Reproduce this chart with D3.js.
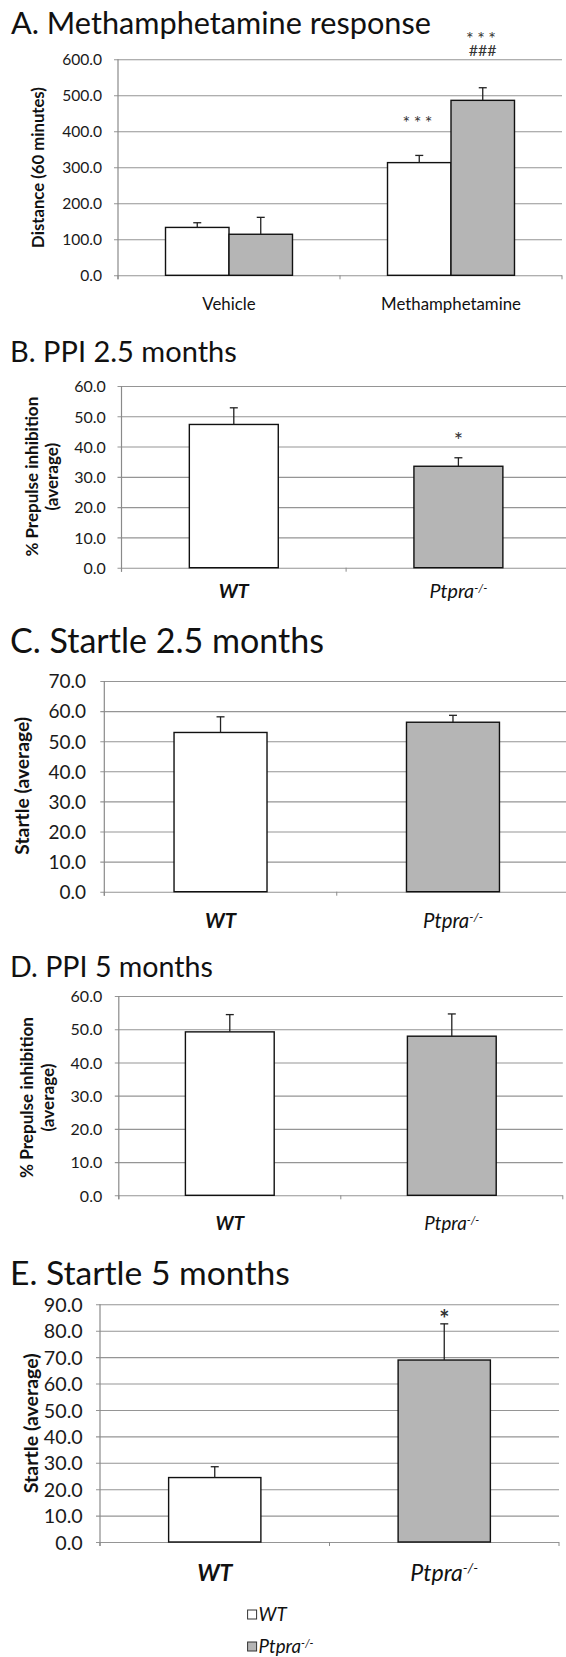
<!DOCTYPE html>
<html>
<head>
<meta charset="utf-8">
<script src="https://cdn.jsdelivr.net/npm/d3@7"></script>
<style>
  body { margin: 0; background: #fff; }
  svg { display: block; }
</style>
</head>
<body>
<svg id="fig" width="566" height="1657"></svg>
<script>
const font = "Lato, 'Open Sans', sans-serif";

// A. Methamphetamine response (two genotypes per treatment)
const methCategories = ["Vehicle", "Methamphetamine"];
const methWT = [133, 313];
const methWTErr = [13, 20];
const methKO = [114, 486];
const methKOErr = [47, 35];
const methWTMarks = [[], ["***"]];
const methKOMarks = [[], ["###", "***"]]; // listed bottom to top
const methTicks = [0, 100, 200, 300, 400, 500, 600];

// B - E: one bar per genotype
const genotypes = ["WT", "Ptpra"];

const ppi25 = [47.3, 33.5];
const ppi25Err = [5.5, 2.8];
const ppi25Marks = [[], ["*"]];

const startle25 = [52.9, 56.3];
const startle25Err = [5.2, 2.3];

const ppi5 = [49.2, 47.9];
const ppi5Err = [5.2, 6.7];

const startle5 = [24.4, 68.9];
const startle5Err = [4.1, 13.7];
const startle5Marks = [[], ["*"]];

const ppiTicks = [0, 10, 20, 30, 40, 50, 60];
const startle25Ticks = [0, 10, 20, 30, 40, 50, 60, 70];
const startle5Ticks = [0, 10, 20, 30, 40, 50, 60, 70, 80, 90];

const colors = { WT: "#ffffff", Ptpra: "#b5b5b5" };

const svg = d3.select("#fig");

function fit(sel, w) {
  const fs = parseFloat(sel.attr("font-size"));
  const len = sel.node().getComputedTextLength();
  const nfs = fs * w / len;
  sel.attr("font-size", nfs);
  return nfs;
}

function genotypeLabel(t, d, fs) {
  t.text(null).attr("font-size", fs).attr("font-style", "italic");
  if (d === "Ptpra") {
    t.attr("font-weight", "normal");
    t.append("tspan").text("Ptpra");
    t.append("tspan").attr("font-size", "0.6em").attr("dy", "-0.55em").text("-/-");
  } else {
    t.attr("font-weight", "bold").text(d);
  }
}

function singleBars(vals, errs, marks) {
  return genotypes.map((c, i) => ({
    cat: c, s: 0, v: vals[i], e: errs[i], marks: marks ? marks[i] : [], fill: colors[c]
  }));
}

function panel(p) {
  const g = svg.append("g");
  const y = d3.scaleLinear().domain([0, p.yMax]).range([p.y0, p.y1]);
  const x = d3.scaleBand().domain(p.categories).range([p.x0, p.x1])
    .paddingInner(p.pad).paddingOuter(p.pad / 2);
  const sub = d3.scaleBand().domain(d3.range(p.nSeries)).range([0, x.bandwidth()]);

  // title
  const title = g.append("text").attr("x", p.titleX).attr("y", p.titleY)
    .attr("font-family", font).attr("font-size", 30).attr("fill", "#111").text(p.title);
  fit(title, p.titleW);

  // gridlines + y tick labels
  const ya = g.append("g").attr("transform", `translate(${p.x0},0)`)
    .call(d3.axisLeft(y).tickValues(p.ticks).tickFormat(d3.format(".1f"))
      .tickSize(-(p.x1 - p.x0)).tickPadding(p.tickPad));
  ya.select(".domain").remove();
  ya.selectAll(".tick line").attr("x1", -4).attr("stroke", "#959595").attr("stroke-width", 1.1);
  ya.selectAll(".tick text").attr("font-family", font).attr("font-size", p.tickFs)
    .attr("fill", "#1a1a1a").attr("dy", "0.36em");

  // left axis line and category boundary ticks
  g.append("line").attr("x1", p.x0).attr("x2", p.x0).attr("y1", y(p.yMax)).attr("y2", y(0) + 4)
    .attr("stroke", "#8a8a8a").attr("stroke-width", 1.2);
  g.selectAll(".ctick").data(d3.range(p.categories.length + 1)).join("line")
    .attr("x1", i => p.x0 + i * x.step()).attr("x2", i => p.x0 + i * x.step())
    .attr("y1", y(0)).attr("y2", y(0) + 4).attr("stroke", "#8a8a8a");

  // category labels
  const xa = g.append("g").attr("transform", `translate(0,${p.y0})`)
    .call(d3.axisBottom(x).tickSize(0).tickPadding(p.labelOff));
  xa.select(".domain").remove();
  const labels = xa.selectAll(".tick text").attr("font-family", font).attr("fill", "#111").attr("dy", "0.36em");
  if (p.genotypeAxis) {
    const probe = labels.filter(d => d === "Ptpra");
    genotypeLabel(probe, "Ptpra", 16);
    const fs = fit(probe, p.catW);
    labels.filter(d => d !== "Ptpra").each(function (d) { genotypeLabel(d3.select(this), d, fs); });
  } else {
    labels.attr("font-size", 14);
    const fs = fit(labels.filter(d => d === "Methamphetamine"), p.catW);
    labels.attr("font-size", fs);
  }

  // y axis title
  const yl = g.append("g").attr("font-family", font).attr("font-weight", "bold").attr("fill", "#111");
  let yfs = null;
  p.yLabel.forEach((line, i) => {
    const t = yl.append("text").attr("transform", `translate(${line.cx},${line.cy}) rotate(-90)`)
      .attr("text-anchor", "middle").attr("dy", "0.36em").attr("font-size", yfs || 14).text(line.text);
    if (i === 0) yfs = fit(t, p.yLabelW);
  });

  // bars
  g.selectAll("rect.bar").data(p.bars).join("rect").attr("class", "bar")
    .attr("x", d => x(d.cat) + sub(d.s)).attr("width", sub.bandwidth())
    .attr("y", d => y(d.v)).attr("height", d => y(0) - y(d.v))
    .attr("fill", d => d.fill).attr("stroke", "#111").attr("stroke-width", 1.4);

  // error bars
  const cx = d => x(d.cat) + sub(d.s) + sub.bandwidth() / 2;
  const eb = g.selectAll("g.err").data(p.bars).join("g").attr("stroke", "#222").attr("stroke-width", 1.3);
  eb.append("line").attr("x1", cx).attr("x2", cx).attr("y1", d => y(d.v)).attr("y2", d => y(d.v + d.e));
  eb.append("line").attr("x1", d => cx(d) - 4).attr("x2", d => cx(d) + 4)
    .attr("y1", d => y(d.v + d.e)).attr("y2", d => y(d.v + d.e));

  // significance marks (stacked lines in one text element)
  p.bars.filter(d => d.marks.length).forEach(d => {
    const t = g.append("text").attr("text-anchor", "middle").attr("font-family", font)
      .attr("font-weight", p.starBold ? "bold" : "normal").attr("fill", "#333");
    d.marks.forEach((m, j) => {
      const star = m[0] === "*";
      t.append("tspan").attr("x", cx(d))
        .attr("y", y(d.v + d.e) - p.markGap - j * p.markStep)
        .attr("font-size", star ? p.starFs : p.hashFs)
        .attr("letter-spacing", star && m.length > 1 ? p.markSpacing : 0)
        .attr("dy", star ? "0.62em" : "0.36em")
        .text(m);
    });
  });
  return { x, y };
}

// A
panel({
  title: "A.  Methamphetamine response", titleX: 11, titleY: 34, titleW: 420,
  categories: methCategories, nSeries: 2, genotypeAxis: false,
  x0: 118, x1: 562, y0: 275.3, y1: 59.3, yMax: 600, pad: 0.428,
  ticks: methTicks, tickFs: 15.6, tickPad: 16, labelOff: 29, catW: 140,
  yLabel: [{ text: "Distance (60 minutes)", cx: 38, cy: 167.5 }], yLabelW: 161,
  bars: methCategories.flatMap((c, i) => [
    { cat: c, s: 0, v: methWT[i], e: methWTErr[i], marks: methWTMarks[i], fill: colors.WT },
    { cat: c, s: 1, v: methKO[i], e: methKOErr[i], marks: methKOMarks[i], fill: colors.Ptpra }
  ]),
  markGap: 38, markStep: 16, starFs: 18, hashFs: 16, markSpacing: 3.5, starBold: false
});

// B
panel({
  title: "B. PPI 2.5 months", titleX: 10, titleY: 361.7, titleW: 227,
  categories: genotypes, nSeries: 1, genotypeAxis: true,
  x0: 121.5, x1: 570.7, y0: 567.7, y1: 386, yMax: 60, pad: 0.604,
  ticks: ppiTicks, tickFs: 16, tickPad: 15.7, labelOff: 23.5, catW: 58,
  yLabel: [{ text: "% Prepulse inhibition", cx: 31.7, cy: 476.7 }, { text: "(average)", cx: 51.7, cy: 476.7 }],
  yLabelW: 160,
  bars: singleBars(ppi25, ppi25Err, ppi25Marks),
  markGap: 23, markStep: 15, starFs: 22, hashFs: 17, markSpacing: 0, starBold: false
});

// C
panel({
  title: "C. Startle 2.5 months", titleX: 10, titleY: 653.3, titleW: 314,
  categories: genotypes, nSeries: 1, genotypeAxis: true,
  x0: 104.3, x1: 569.2, y0: 891.7, y1: 681, yMax: 70, pad: 0.6,
  ticks: startle25Ticks, tickFs: 19, tickPad: 18.3, labelOff: 28.5, catW: 60,
  yLabel: [{ text: "Startle (average)", cx: 22.5, cy: 785.8 }], yLabelW: 138,
  bars: singleBars(startle25, startle25Err, null),
  markGap: 20, markStep: 15, starFs: 22, hashFs: 17, markSpacing: 0, starBold: false
});

// D
panel({
  title: "D. PPI 5 months", titleX: 10, titleY: 977, titleW: 203,
  categories: genotypes, nSeries: 1, genotypeAxis: true,
  x0: 118.8, x1: 562.8, y0: 1195.3, y1: 996, yMax: 60, pad: 0.6,
  ticks: ppiTicks, tickFs: 16, tickPad: 16.6, labelOff: 27.7, catW: 55,
  yLabel: [{ text: "% Prepulse inhibition", cx: 26.7, cy: 1097.5 }, { text: "(average)", cx: 48, cy: 1097.5 }],
  yLabelW: 161,
  bars: singleBars(ppi5, ppi5Err, null),
  markGap: 20, markStep: 15, starFs: 22, hashFs: 17, markSpacing: 0, starBold: false
});

// E
panel({
  title: "E. Startle 5 months", titleX: 10, titleY: 1285, titleW: 280,
  categories: genotypes, nSeries: 1, genotypeAxis: true,
  x0: 100, x1: 559, y0: 1542, y1: 1304.3, yMax: 90, pad: 0.598,
  ticks: startle5Ticks, tickFs: 19.7, tickPad: 17.3, labelOff: 30.5, catW: 68,
  yLabel: [{ text: "Startle (average)", cx: 30.8, cy: 1423.3 }], yLabelW: 140,
  bars: singleBars(startle5, startle5Err, startle5Marks),
  markGap: 10.5, markStep: 15, starFs: 24, hashFs: 17, markSpacing: 0, starBold: true
});

// legend
const legend = svg.append("g").attr("font-family", font).attr("fill", "#111");
const legRows = legend.selectAll("g").data(genotypes).join("g")
  .attr("transform", (d, i) => `translate(247.6,${1614.5 + i * 32})`);
legRows.append("rect").attr("x", 0).attr("y", -4.5).attr("width", 9).attr("height", 9)
  .attr("fill", d => colors[d]).attr("stroke", "#333").attr("stroke-width", 1);
const legTexts = legRows.append("text").attr("x", 11).attr("dy", "0.36em");
legTexts.each(function (d) { genotypeLabel(d3.select(this), d, 16); });
legTexts.attr("font-weight", "normal");
const lfs = fit(legTexts.filter(d => d === "Ptpra"), 55);
legTexts.attr("font-size", lfs);
</script>
</body>
</html>
